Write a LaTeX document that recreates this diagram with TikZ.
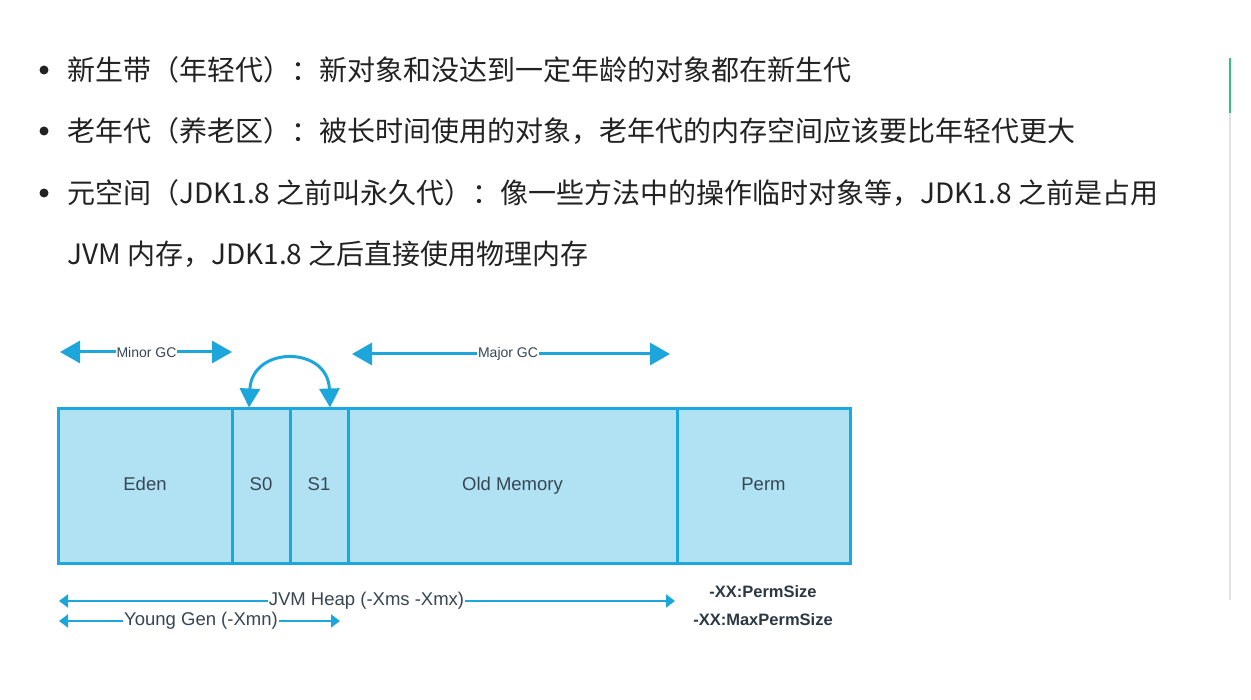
\documentclass[tikz,border=0pt]{standalone}
\usepackage{fontspec}
\setmainfont{Noto Sans CJK SC}
\newfontfamily\diagfont{Liberation Sans}
\usetikzlibrary{arrows.meta}
\definecolor{cellfill}{RGB}{176,226,243}
\definecolor{cellline}{RGB}{27,168,222}
\definecolor{arrowblue}{RGB}{29,166,220}
\definecolor{labeltext}{RGB}{55,70,84}
\definecolor{bodytext}{RGB}{34,34,34}
\definecolor{accent}{RGB}{52,190,130}
\definecolor{rulegray}{RGB}{226,226,226}
\begin{document}
\begin{tikzpicture}[x=1pt,y=-1pt,
  cell/.style={draw=cellline, fill=cellfill, line width=3pt, minimum height=154pt, inner sep=0pt,
    text height=13pt, text depth=4pt,
    font=\diagfont\fontsize{18.5}{20}\selectfont, text=labeltext},
  bodyline/.style={anchor=base west, inner sep=0pt, text=bodytext, font=\fontsize{28}{32}\selectfont},
  bulletdot/.style={circle, fill=bodytext, inner sep=0pt, minimum size=9pt},
  bigarrow/.style={draw=arrowblue, line width=3pt, {Triangle[length=20pt,width=22pt]}-{Triangle[length=20pt,width=22pt]}},
  smallarrow/.style={draw=arrowblue, line width=2pt, {Triangle[length=9pt,width=13pt]}-{Triangle[length=9pt,width=13pt]}},
  gclabel/.style={fill=white, inner sep=1pt, text=labeltext, font=\diagfont\fontsize{14}{16}\selectfont},
  heaplabel/.style={fill=white, inner sep=1pt, text=labeltext, font=\diagfont\fontsize{18.5}{20}\selectfont},
  optlabel/.style={inner sep=0pt, text=labeltext!80!black, font=\diagfont\bfseries\fontsize{16.5}{18}\selectfont}
]
\useasboundingbox (0,0) rectangle (1251,700);
\fill[white] (0,0) rectangle (1251,700);

% right-hand rule
\coordinate (ruletop) at (1230,58);
\coordinate (rulemid) at (1230,113);
\coordinate (rulebot) at (1230,600);
\draw[rulegray, line width=2pt] (rulemid) -- (rulebot);
\draw[accent, line width=2pt] (ruletop) -- (rulemid);

% bullet text
\node[bulletdot] (b1) at (44,70) {};
\node[bodyline] (t1) at (67,81) {新生带（年轻代）：新对象和没达到一定年龄的对象都在新生代};
\node[bulletdot] (b2) at (44,131) {};
\node[bodyline] (t2) at (67,142) {老年代（养老区）：被长时间使用的对象，老年代的内存空间应该要比年轻代更大};
\node[bulletdot] (b3) at (44,193) {};
\node[bodyline] (t3) at (67,204) {元空间（JDK1.8 之前叫永久代）：像一些方法中的操作临时对象等，JDK1.8 之前是占用};
\node[bodyline] (t4) at (67,265) {JVM 内存，JDK1.8 之后直接使用物理内存};

% memory cells
\node[cell, minimum width=174pt] (eden) at (145,486) {Eden};
\node[cell, minimum width=58pt] (s0) at (261,486) {S0};
\node[cell, minimum width=58pt] (s1) at (319,486) {S1};
\node[cell, minimum width=329pt] (old) at (512.5,486) {Old Memory};
\node[cell, minimum width=173pt] (perm) at (763.5,486) {Perm};

% Minor GC
\coordinate (minorL) at (60,352);
\coordinate (minorR) at (232,352);
\draw[bigarrow] (minorL) -- (minorR);
\node[gclabel] (minor) at (146.5,352) {Minor GC};

% Major GC
\coordinate (majorL) at (352,354);
\coordinate (majorR) at (670,354);
\draw[bigarrow] (majorL) -- (majorR);
\node[gclabel] (major) at (508,354) {Major GC};

% survivor swap
\draw[draw=arrowblue, line width=3pt, {Triangle[length=19pt,width=20pt]}-{Triangle[length=19pt,width=20pt]}]
  ([xshift=-12pt]s0.north) .. controls +(3,-62) and +(-2,-62) .. ([xshift=11pt]s1.north);

% JVM heap
\coordinate (heapL) at (59,601);
\coordinate (heapR) at (675,601);
\draw[smallarrow] (heapL) -- (heapR);
\node[heaplabel] (heap) at (366.5,601) {JVM Heap (-Xms -Xmx)};

% Young gen
\coordinate (youngL) at (59,621);
\coordinate (youngR) at (340,621);
\draw[smallarrow] (youngL) -- (youngR);
\node[heaplabel] (young) at (201,621) {Young Gen (-Xmn)};

% Perm options
\node[optlabel] (permsize) at (763,592) {-XX:PermSize};
\node[optlabel] (maxperm) at (763,620) {-XX:MaxPermSize};
\end{tikzpicture}
\end{document}
